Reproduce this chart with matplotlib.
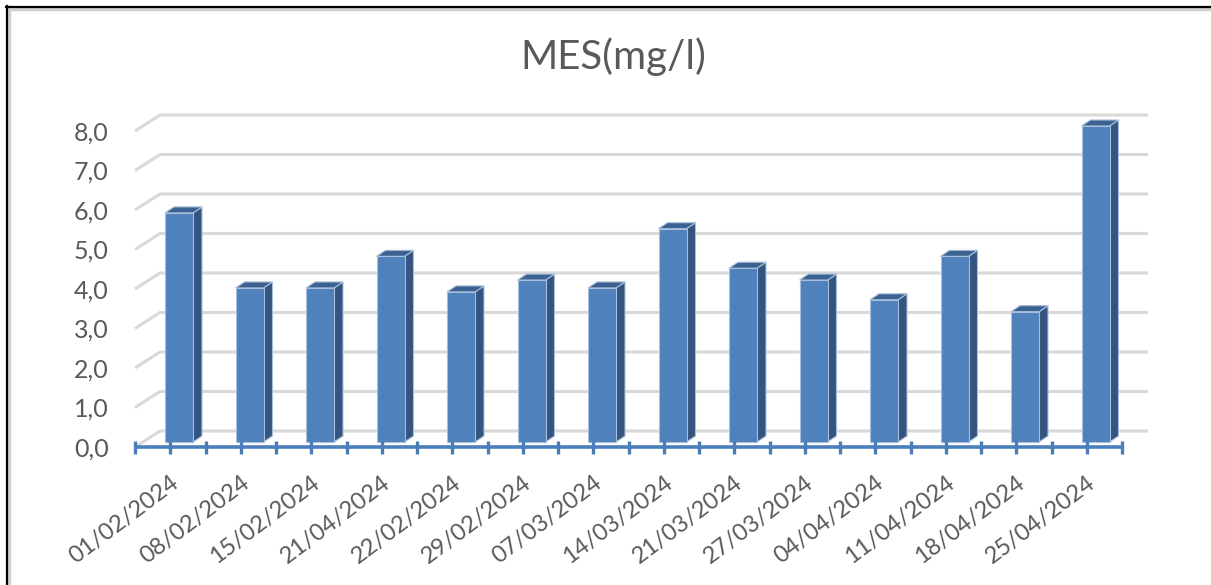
import matplotlib
matplotlib.use("Agg")
import matplotlib.pyplot as plt
from matplotlib.patches import Polygon
from matplotlib.lines import Line2D

# --- data -------------------------------------------------------------
dates = ["01/02/2024", "08/02/2024", "15/02/2024", "21/04/2024", "22/02/2024",
         "29/02/2024", "07/03/2024", "14/03/2024", "21/03/2024", "27/03/2024",
         "04/04/2024", "11/04/2024", "18/04/2024", "25/04/2024"]
mes = [5.8, 3.9, 3.9, 4.7, 3.8, 4.1, 3.9, 5.4, 4.4, 4.1, 3.6, 4.7, 3.3, 8.0]
y_ticks = [0, 1, 2, 3, 4, 5, 6, 7, 8]
y_labels = ["0,0", "1,0", "2,0", "3,0", "4,0", "5,0", "6,0", "7,0", "8,0"]
title = "MES(mg/l)"

# --- layout (pixels) --------------------------------------------------
W, H = 1211, 585
plot_left, plot_right = 135, 1122
plot_zero, plot_top = 447, 131
fig = plt.figure(figsize=(W / 100, H / 100), dpi=100)
fig.patch.set_facecolor("white")
ax = fig.add_axes([plot_left / W, (H - plot_zero) / H,
                   (plot_right - plot_left) / W, (plot_zero - plot_top) / H])
n = len(dates)
ax.set_xlim(-0.5, n - 0.5)
ax.set_ylim(0, 8)
ux = (plot_right - plot_left) / n      # px per category
uy = (plot_zero - plot_top) / 8        # px per unit

text_col = "#595959"
grid_col = "#D9D9D9"
axis_col = "#4A7EBB"
front_col = "#4F81BD"
side_col = "#34557F"
top_col = "#3B6291"

# back wall: perspective shift of the gridlines
back_dx, back_dy = 25 / ux, 16 / uy
back_right = (1148 - plot_left) / ux - 0.5
for v in y_ticks:
    ax.plot([-0.5, -0.5 + back_dx, back_right], [v, v + back_dy, v + back_dy],
            color=grid_col, lw=2.2, clip_on=False, zorder=1, solid_capstyle="butt")

# 3-D style bars
face_off = 30 / ux
face_w = 28 / ux
base = 5 / uy
dep_x, dep_y = 9 / ux, 6 / uy
for i, v in enumerate(mes):
    L = i - 0.5 + face_off
    R = L + face_w
    B = base
    T = base + v
    side = Polygon([(R, B), (R + dep_x, B + dep_y), (R + dep_x, T + dep_y), (R, T)],
                   closed=True, facecolor=side_col, edgecolor="#A9BEDA", lw=0.8,
                   zorder=3, clip_on=False)
    top = Polygon([(L, T), (L + dep_x, T + dep_y), (R + dep_x, T + dep_y), (R, T)],
                  closed=True, facecolor=top_col, edgecolor="#A9BEDA", lw=0.8,
                  zorder=3, clip_on=False)
    ax.add_patch(side)
    ax.add_patch(top)
    ax.bar(L, v, width=face_w, bottom=B, align="edge", color=front_col,
           edgecolor="#A9BEDA", lw=0.8, zorder=4, clip_on=False)

# category axis with tick marks at every half category
ax.plot([-0.5, n - 0.5], [0, 0], color=axis_col, lw=2.6, zorder=5, clip_on=False,
        solid_capstyle="butt")
tick_h = 6.5 / uy
for k in range(2 * n + 1):
    x = -0.5 + k * 0.5
    ax.plot([x, x], [-tick_h, tick_h], color=axis_col, lw=2.4, zorder=5,
            clip_on=False, solid_capstyle="butt")

for s in ax.spines.values():
    s.set_visible(False)
ax.set_facecolor("none")

ax.set_yticks(y_ticks, labels=y_labels)
ax.tick_params(axis="y", length=0, pad=19, labelsize=18, labelcolor=text_col)
for t in ax.get_yticklabels():
    t.set_fontfamily("Lato")

label_shift = 6 / ux
ax.set_xticks([i + label_shift for i in range(n)], labels=dates)
ax.tick_params(axis="x", length=0, pad=24, labelsize=17, labelcolor=text_col)
for t in ax.get_xticklabels():
    t.set_fontfamily("Lato")
    t.set_rotation(37)
    t.set_ha("right")
    t.set_va("center")
    t.set_rotation_mode("anchor")

fig.text(613 / W, 1 - 57 / H, title, ha="center", va="center",
         fontsize=29, color=text_col, family="Lato")

# outer frame (left and top edges)
fig.add_artist(Line2D([8.5 / W, 8.5 / W], [0, 1 - 7 / H], color="#D0D0D0", lw=2.5,
                      transform=fig.transFigure))
fig.add_artist(Line2D([9.5 / W, 1], [1 - 8.5 / H, 1 - 8.5 / H], color="#D0D0D0",
                      lw=2.5, transform=fig.transFigure))
fig.add_artist(Line2D([7 / W, 7 / W], [0, 1 - 6 / H], color="black", lw=1.6,
                      transform=fig.transFigure))
fig.add_artist(Line2D([6 / W, 1], [1 - 7 / H, 1 - 7 / H], color="black", lw=1.6,
                      transform=fig.transFigure))

fig.savefig("out.png", dpi=100)
